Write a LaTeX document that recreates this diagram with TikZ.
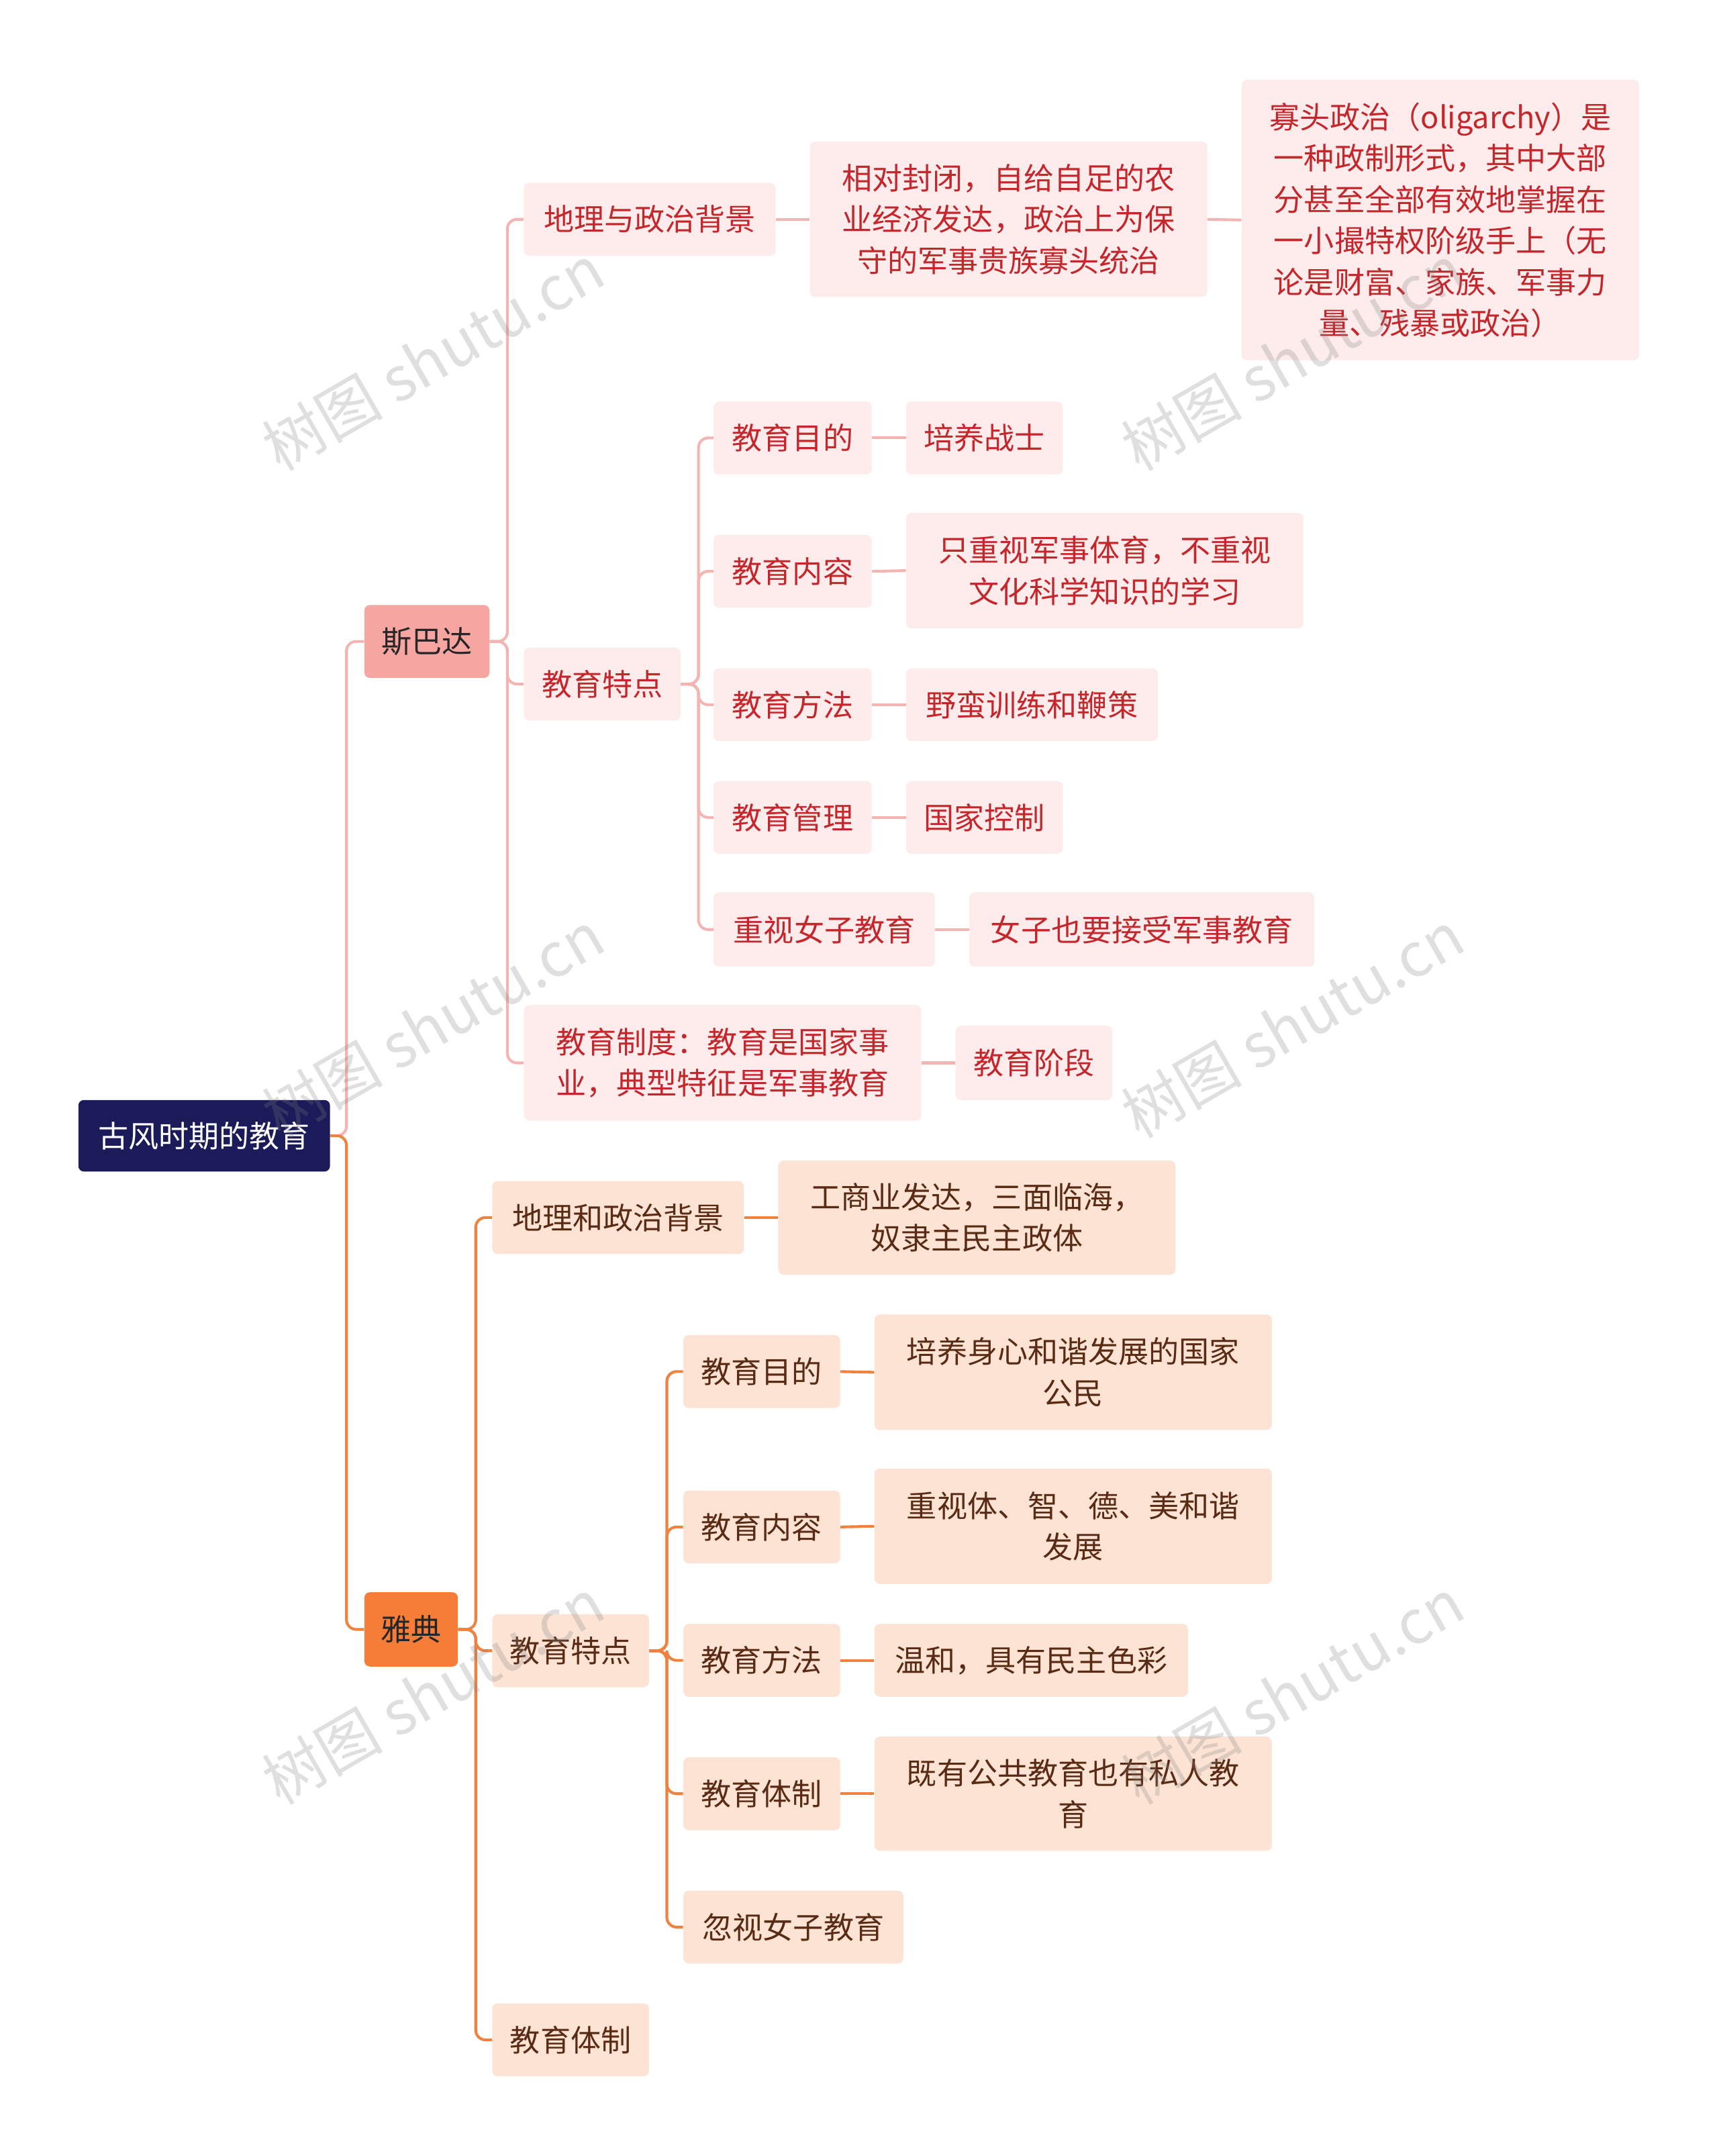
\documentclass[tikz,border=0pt]{standalone}
\usepackage{fontspec}
\setmainfont{Noto Sans CJK SC}
\begin{document}
\begin{tikzpicture}[x=1pt,y=-1pt,
 box/.style={rounded corners=4pt,inner sep=0pt,align=center,font=\fontsize{22}{30}\selectfont},
 rootb/.style={box,fill=rootc,text=white},
 sp1/.style={box,fill=spc,text=black!85},
 ath1/.style={box,fill=athc,text=black!85},
 spl/.style={box,fill=spl,text=spt},
 atl/.style={box,fill=atl,text=att},
 spline/.style={draw=splc,line width=2pt,rounded corners=7pt},
 atline/.style={draw=atlc,line width=2pt,rounded corners=7pt}]
\definecolor{rootc}{HTML}{1B1B5A}
\definecolor{spc}{HTML}{F7A5A1}
\definecolor{athc}{HTML}{F57D38}
\definecolor{spl}{HTML}{FDECEB}
\definecolor{spt}{HTML}{C4262C}
\definecolor{atl}{HTML}{FDE3D4}
\definecolor{att}{HTML}{5A2B14}
\definecolor{splc}{HTML}{F4B4B2}
\definecolor{atlc}{HTML}{F0823F}
\useasboundingbox (0,0) rectangle (1250,1568);
\fill[white] (0,0) rectangle (1250,1568);
\newcommand\nd[7]{\node[#2,minimum width={#5-#3},minimum height={#6-#4}] (#1) at ({(#3+#5)/2},{(#4+#6)/2}) {#7};}
\nd{root}{rootb}{57}{800}{240}{852}{古风时期的教育}
\nd{sp}{sp1}{265}{440}{356}{493}{斯巴达}
\nd{at}{ath1}{265}{1158}{333}{1212}{雅典}
% Sparta
\nd{s1}{spl}{381}{133}{564}{186}{地理与政治背景}
\nd{s1a}{spl}{589}{103}{878}{216}{相对封闭，自给自足的农\\业经济发达，政治上为保\\守的军事贵族寡头统治}
\nd{s1b}{spl}{903}{58}{1192}{262}{寡头政治（oligarchy）是\\一种政制形式，其中大部\\分甚至全部有效地掌握在\\一小撮特权阶级手上（无\\论是财富、家族、军事力\\量、残暴或政治）}
\nd{s2}{spl}{381}{471}{495}{524}{教育特点}
\nd{s21}{spl}{519}{292}{634}{345}{教育目的}
\nd{s21a}{spl}{659}{292}{773}{345}{培养战士}
\nd{s22}{spl}{519}{389}{634}{442}{教育内容}
\nd{s22a}{spl}{659}{373}{948}{457}{只重视军事体育，不重视\\文化科学知识的学习}
\nd{s23}{spl}{519}{486}{634}{539}{教育方法}
\nd{s23a}{spl}{659}{486}{842}{539}{野蛮训练和鞭策}
\nd{s24}{spl}{519}{568}{634}{621}{教育管理}
\nd{s24a}{spl}{659}{568}{773}{621}{国家控制}
\nd{s25}{spl}{519}{649}{680}{703}{重视女子教育}
\nd{s25a}{spl}{705}{649}{956}{703}{女子也要接受军事教育}
\nd{s3}{spl}{381}{731}{670}{815}{教育制度：教育是国家事\\业，典型特征是军事教育}
\nd{s3a}{spl}{695}{746}{809}{800}{教育阶段}
% Athens
\nd{a1}{atl}{358}{859}{541}{912}{地理和政治背景}
\nd{a1a}{atl}{566}{844}{855}{927}{工商业发达，三面临海，\\奴隶主民主政体}
\nd{a2}{atl}{358}{1174}{472}{1227}{教育特点}
\nd{a21}{atl}{497}{971}{611}{1024}{教育目的}
\nd{a21a}{atl}{636}{956}{925}{1040}{培养身心和谐发展的国家\\公民}
\nd{a22}{atl}{497}{1084}{611}{1137}{教育内容}
\nd{a22a}{atl}{636}{1068}{925}{1152}{重视体、智、德、美和谐\\发展}
\nd{a23}{atl}{497}{1181}{611}{1234}{教育方法}
\nd{a23a}{atl}{636}{1181}{864}{1234}{温和，具有民主色彩}
\nd{a24}{atl}{497}{1278}{611}{1331}{教育体制}
\nd{a24a}{atl}{636}{1263}{925}{1346}{既有公共教育也有私人教\\育}
\nd{a25}{atl}{497}{1375}{657}{1428}{忽视女子教育}
\nd{a3}{atl}{358}{1457}{472}{1510}{教育体制}
% connectors
\newcommand\br[4]{\path[#4] (#1.east) -- (#3,0 |- #1.east) |- (#2.west);}
\br{root}{sp}{252}{spline}
\br{root}{at}{252}{atline}
\foreach \c in {s1,s2,s3} {\br{sp}{\c}{369}{spline}}
\foreach \c in {s21,s22,s23,s24,s25} {\br{s2}{\c}{508}{spline}}
\foreach \c in {a1,a2,a3} {\br{at}{\c}{346}{atline}}
\foreach \c in {a21,a22,a23,a24,a25} {\br{a2}{\c}{485}{atline}}
\foreach \a/\b in {s1/s1a,s1a/s1b,s21/s21a,s22/s22a,s23/s23a,s24/s24a,s25/s25a,s3/s3a}
 {\path[spline] (\a.east) -- (\b.west);}
\foreach \a/\b in {a1/a1a,a21/a21a,a22/a22a,a23/a23a,a24/a24a}
 {\path[atline] (\a.east) -- (\b.west);}
% watermarks
\foreach \x/\y in {315/260,940/260,315/745,940/745,315/1230,940/1230}
 \node[rotate=30,text=gray,opacity=0.25,font=\fontsize{44}{44}\selectfont] (wm) at (\x,\y) {树图 shutu.cn};
\end{tikzpicture}
\end{document}
